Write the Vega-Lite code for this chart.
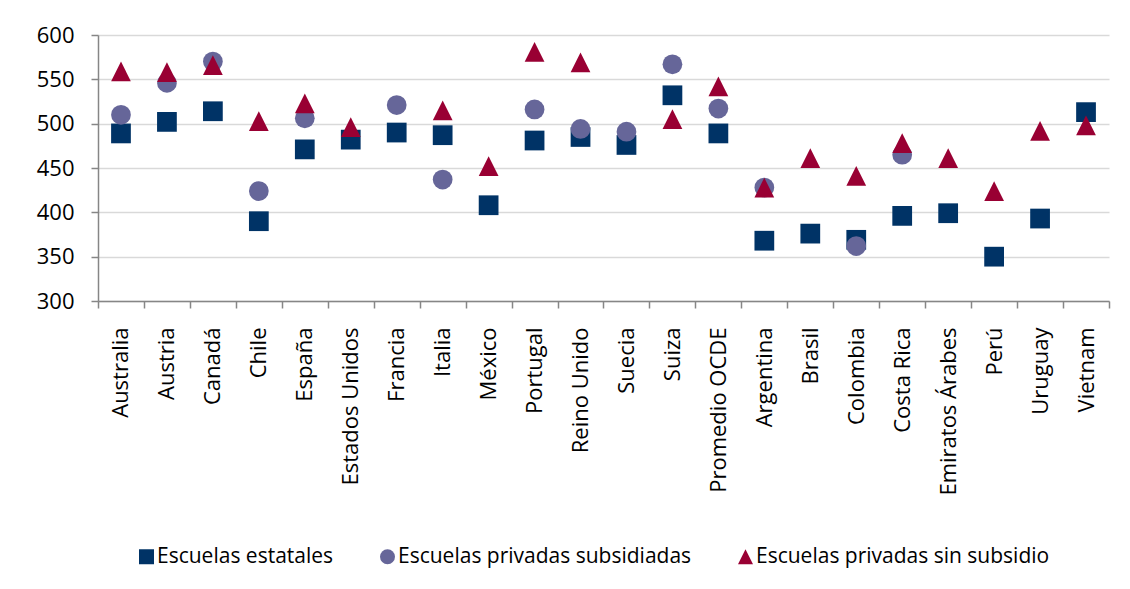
{
  "$schema": "https://vega.github.io/schema/vega-lite/v6.json",
  "width": 1011,
  "height": 266,
  "autosize": {"type": "none"},
  "padding": {"left": 98, "top": 35, "right": 21, "bottom": 288},
  "background": "white",
  "config": {
    "font": "Open Sans",
    "view": {"stroke": null}
  },
  "data": {
    "values": [
      {"pais": "Australia", "tipo": "Escuelas estatales", "valor": 489},
      {"pais": "Austria", "tipo": "Escuelas estatales", "valor": 502},
      {"pais": "Canadá", "tipo": "Escuelas estatales", "valor": 514},
      {"pais": "Chile", "tipo": "Escuelas estatales", "valor": 390},
      {"pais": "España", "tipo": "Escuelas estatales", "valor": 471},
      {"pais": "Estados Unidos", "tipo": "Escuelas estatales", "valor": 482},
      {"pais": "Francia", "tipo": "Escuelas estatales", "valor": 490},
      {"pais": "Italia", "tipo": "Escuelas estatales", "valor": 487},
      {"pais": "México", "tipo": "Escuelas estatales", "valor": 408},
      {"pais": "Portugal", "tipo": "Escuelas estatales", "valor": 481},
      {"pais": "Reino Unido", "tipo": "Escuelas estatales", "valor": 485},
      {"pais": "Suecia", "tipo": "Escuelas estatales", "valor": 476},
      {"pais": "Suiza", "tipo": "Escuelas estatales", "valor": 532},
      {"pais": "Promedio OCDE", "tipo": "Escuelas estatales", "valor": 489},
      {"pais": "Argentina", "tipo": "Escuelas estatales", "valor": 368},
      {"pais": "Brasil", "tipo": "Escuelas estatales", "valor": 376},
      {"pais": "Colombia", "tipo": "Escuelas estatales", "valor": 369},
      {"pais": "Costa Rica", "tipo": "Escuelas estatales", "valor": 396},
      {"pais": "Emiratos Árabes", "tipo": "Escuelas estatales", "valor": 399},
      {"pais": "Perú", "tipo": "Escuelas estatales", "valor": 350},
      {"pais": "Uruguay", "tipo": "Escuelas estatales", "valor": 393},
      {"pais": "Vietnam", "tipo": "Escuelas estatales", "valor": 513},
      {"pais": "Australia", "tipo": "Escuelas privadas subsidiadas", "valor": 510},
      {"pais": "Austria", "tipo": "Escuelas privadas subsidiadas", "valor": 546},
      {"pais": "Canadá", "tipo": "Escuelas privadas subsidiadas", "valor": 570},
      {"pais": "Chile", "tipo": "Escuelas privadas subsidiadas", "valor": 424},
      {"pais": "España", "tipo": "Escuelas privadas subsidiadas", "valor": 506},
      {"pais": "Francia", "tipo": "Escuelas privadas subsidiadas", "valor": 521},
      {"pais": "Italia", "tipo": "Escuelas privadas subsidiadas", "valor": 437},
      {"pais": "Portugal", "tipo": "Escuelas privadas subsidiadas", "valor": 516},
      {"pais": "Reino Unido", "tipo": "Escuelas privadas subsidiadas", "valor": 494},
      {"pais": "Suecia", "tipo": "Escuelas privadas subsidiadas", "valor": 491},
      {"pais": "Suiza", "tipo": "Escuelas privadas subsidiadas", "valor": 567},
      {"pais": "Promedio OCDE", "tipo": "Escuelas privadas subsidiadas", "valor": 517},
      {"pais": "Argentina", "tipo": "Escuelas privadas subsidiadas", "valor": 428},
      {"pais": "Colombia", "tipo": "Escuelas privadas subsidiadas", "valor": 362},
      {"pais": "Costa Rica", "tipo": "Escuelas privadas subsidiadas", "valor": 465},
      {"pais": "Australia", "tipo": "Escuelas privadas sin subsidio", "valor": 559},
      {"pais": "Austria", "tipo": "Escuelas privadas sin subsidio", "valor": 558},
      {"pais": "Canadá", "tipo": "Escuelas privadas sin subsidio", "valor": 566},
      {"pais": "Chile", "tipo": "Escuelas privadas sin subsidio", "valor": 503},
      {"pais": "España", "tipo": "Escuelas privadas sin subsidio", "valor": 523},
      {"pais": "Estados Unidos", "tipo": "Escuelas privadas sin subsidio", "valor": 496},
      {"pais": "Italia", "tipo": "Escuelas privadas sin subsidio", "valor": 515},
      {"pais": "México", "tipo": "Escuelas privadas sin subsidio", "valor": 452},
      {"pais": "Portugal", "tipo": "Escuelas privadas sin subsidio", "valor": 581},
      {"pais": "Reino Unido", "tipo": "Escuelas privadas sin subsidio", "valor": 569},
      {"pais": "Suiza", "tipo": "Escuelas privadas sin subsidio", "valor": 505},
      {"pais": "Promedio OCDE", "tipo": "Escuelas privadas sin subsidio", "valor": 542},
      {"pais": "Argentina", "tipo": "Escuelas privadas sin subsidio", "valor": 428},
      {"pais": "Brasil", "tipo": "Escuelas privadas sin subsidio", "valor": 461},
      {"pais": "Colombia", "tipo": "Escuelas privadas sin subsidio", "valor": 441},
      {"pais": "Costa Rica", "tipo": "Escuelas privadas sin subsidio", "valor": 478},
      {"pais": "Emiratos Árabes", "tipo": "Escuelas privadas sin subsidio", "valor": 461},
      {"pais": "Perú", "tipo": "Escuelas privadas sin subsidio", "valor": 424},
      {"pais": "Uruguay", "tipo": "Escuelas privadas sin subsidio", "valor": 492},
      {"pais": "Vietnam", "tipo": "Escuelas privadas sin subsidio", "valor": 498}
    ]
  },
  "mark": {"type": "point", "filled": true, "opacity": 1, "strokeWidth": 0, "size": 390},
  "encoding": {
    "x": {
      "field": "pais",
      "type": "nominal",
      "sort": ["Australia", "Austria", "Canadá", "Chile", "España", "Estados Unidos", "Francia", "Italia", "México", "Portugal", "Reino Unido", "Suecia", "Suiza", "Promedio OCDE", "Argentina", "Brasil", "Colombia", "Costa Rica", "Emiratos Árabes", "Perú", "Uruguay", "Vietnam"],
      "scale": {"paddingInner": 0, "paddingOuter": 0},
      "axis": {
        "title": null,
        "labelAngle": -90,
        "labelAlign": "right",
        "labelBaseline": "middle",
        "tickBand": "extent",
        "tickSize": 7,
        "labelPadding": 19,
        "labelFontSize": 22,
        "labelColor": "#000000",
        "domainColor": "#868686",
        "tickColor": "#868686",
        "domainWidth": 1.5,
        "tickWidth": 1.5,
        "grid": false
      }
    },
    "y": {
      "field": "valor",
      "type": "quantitative",
      "scale": {"domain": [300, 600], "nice": false, "zero": false},
      "axis": {
        "title": null,
        "values": [300, 350, 400, 450, 500, 550, 600],
        "tickSize": 7,
        "labelPadding": 17,
        "labelFontSize": 22,
        "labelColor": "#000000",
        "domainColor": "#868686",
        "tickColor": "#868686",
        "domainWidth": 1.5,
        "tickWidth": 1.5,
        "grid": true,
        "gridColor": "#d9d9d9",
        "gridWidth": 1.5
      }
    },
    "color": {
      "field": "tipo",
      "type": "nominal",
      "scale": {
        "domain": ["Escuelas estatales", "Escuelas privadas subsidiadas", "Escuelas privadas sin subsidio"],
        "range": ["#003366", "#666699", "#990033"]
      },
      "legend": {
        "title": null,
        "orient": "none",
        "legendX": 38,
        "legendY": 511,
        "direction": "horizontal",
        "columnPadding": 43,
        "labelOffset": 0,
        "labelFontSize": 21,
        "labelColor": "#000000",
        "labelLimit": 0,
        "symbolSize": 225,
        "symbolStrokeWidth": 0,
        "padding": 0
      }
    },
    "shape": {
      "field": "tipo",
      "type": "nominal",
      "scale": {
        "domain": ["Escuelas estatales", "Escuelas privadas subsidiadas", "Escuelas privadas sin subsidio"],
        "range": ["square", "circle", "M0,-1L1,1L-1,1Z"]
      }
    }
  }
}
